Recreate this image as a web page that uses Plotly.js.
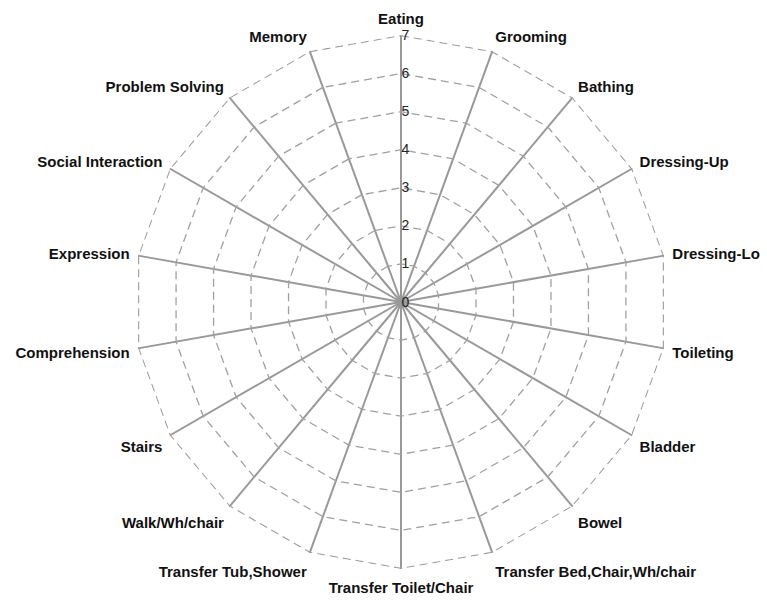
<!DOCTYPE html>
<html>
<head>
<meta charset="utf-8">
<script src="https://cdn.plot.ly/plotly-3.0.1.min.js"></script>
<style>html,body{margin:0;padding:0;background:#fff;}#chart{width:767px;height:601px;}</style>
</head>
<body>
<div id="chart"></div>
<script>
const categories = ["Eating","Grooming","Bathing","Dressing-Up","Dressing-Lo","Toileting","Bladder","Bowel","Transfer Bed,Chair,Wh/chair","Transfer Toilet/Chair","Transfer Tub,Shower","Walk/Wh/chair","Stairs","Comprehension","Expression","Social Interaction","Problem Solving","Memory"];
const values = [0,0,0,0,0,0,0,0,0,0,0,0,0,0,0,0,0,0];
const radialTicks = [0,1,2,3,4,5,6,7];
const radialMax = 7;

const R = 267, cx = 401, cy = 302, W = 767, H = 601;
const outline = {
  type: 'scatterpolar',
  r: categories.map(() => radialMax).concat([radialMax]),
  theta: categories.concat([categories[0]]),
  mode: 'lines',
  line: {color: '#a0a0a0', width: 1.3, dash: '8px,5px'},
  hoverinfo: 'skip',
  showlegend: false,
  cliponaxis: false
};
const trace = {
  type: 'scatterpolar',
  r: values,
  theta: categories,
  mode: 'lines+markers',
  line: {color: '#888', width: 2},
  marker: {color: '#888', size: 8},
  hoverinfo: 'skip',
  showlegend: false
};
const layout = {
  width: W, height: H,
  margin: {l:0, r:0, t:0, b:0},
  paper_bgcolor: '#fff',
  showlegend: false,
  font: {family: 'Liberation Sans, Arial, sans-serif'},
  polar: {
    domain: {x: [(cx-R)/W, (cx+R)/W], y: [(H-cy-R)/H, (H-cy+R)/H]},
    bgcolor: 'rgba(0,0,0,0)',
    gridshape: 'linear',
    angularaxis: {
      type: 'category',
      categoryorder: 'array', categoryarray: categories,
      rotation: 90, direction: 'clockwise',
      showline: false,
      gridcolor: '#999', gridwidth: 2,
      ticks: 'outside', ticklen: 5, tickcolor: 'rgba(0,0,0,0)',
      tickfont: {size: 15, color: '#111', family: 'Liberation Sans, Arial, sans-serif', weight: 'bold'}
    },
    radialaxis: {
      range: [0, radialMax * 1.002], angle: 90, tickangle: 90,
      tickvals: radialTicks, ticktext: radialTicks.map(String),
      showline: false, ticks: '',
      gridcolor: '#a0a0a0', gridwidth: 1.3, griddash: '8px,5px',
      tickfont: {size: 14, color: '#222'}
    }
  }
};
Plotly.newPlot('chart', [outline, trace], layout, {displayModeBar: false, staticPlot: true});
</script>
</body>
</html>
